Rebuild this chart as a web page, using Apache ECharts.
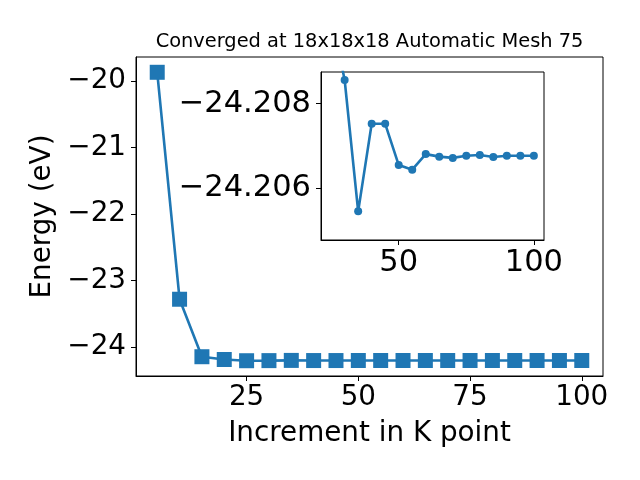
<!DOCTYPE html>
<html><head><meta charset="utf-8">
<script src="https://cdn.jsdelivr.net/npm/echarts@6/dist/echarts.min.js"></script>
<style>html,body{margin:0;padding:0;background:#fff}#c{width:640px;height:480px}</style>
</head><body><div id="c"></div>
<script>
const kPoints = [5,10,15,20,25,30,35,40,45,50,55,60,65,70,75,80,85,90,95,100];
const energy = [-19.870,-23.285,-24.150,-24.192,-24.21015,-24.20856,-24.20544,-24.20752,-24.20752,-24.20654,-24.20643,-24.20680,-24.20674,-24.20671,-24.20676,-24.20678,-24.20673,-24.20676,-24.20676,-24.20676];
const mainXTicks = [25,50,75,100];
const mainYTicks = [-20,-21,-22,-23,-24];
const insetXTicks = [50,100];
const insetYTicks = [-24.208,-24.206];
const insetStartK = 25;
const titleText = 'Converged at 18x18x18 Automatic Mesh 75';
const xLabel = 'Increment in K point';
const yLabel = 'Energy (eV)';

const FONT = 'DejaVu Sans';
const C = '#1f77b4';
const mainData = kPoints.map((k,i)=>[k, energy[i]]);
const insetData = mainData.filter(d=>d[0]>=insetStartK);
const minus = s => String(s).replace('-', '\u2212');

const chart = echarts.init(document.getElementById('c'), null, {renderer:'canvas'});
chart.setOption({
  animation:false,
  backgroundColor:'#fff',
  graphic:[{type:'text', x:369.5, y:42, style:{text:titleText, font:'19.4px "DejaVu Sans"', fill:'#000', textAlign:'center', textVerticalAlign:'middle'}}],
  grid:[
    {left:136, top:57, width:467, height:319, show:true, borderColor:'#000', borderWidth:1, backgroundColor:'transparent'},
    {left:321, top:72, width:223, height:168, show:true, borderColor:'#000', borderWidth:1, backgroundColor:'#fff', z:10}
  ],
  xAxis:[
    {type:'value', gridIndex:0, min:0.25, max:104.75,
     name:xLabel, nameLocation:'middle', nameGap:44, nameTextStyle:{fontFamily:FONT, fontSize:27.8, color:'#000'},
     axisLine:{show:true, onZero:false, lineStyle:{color:'#000', width:1}}, splitLine:{show:false},
     axisTick:{show:true, length:5, customValues:mainXTicks, lineStyle:{color:'#000'}},
     axisLabel:{customValues:mainXTicks, fontFamily:FONT, fontSize:27.8, color:'#000', margin:8, formatter:v=>minus(v)}},
    {type:'value', gridIndex:1, min:21.25, max:103.75, z:10,
     axisLine:{show:true, onZero:false, lineStyle:{color:'#000', width:1}}, splitLine:{show:false},
     axisTick:{show:true, length:5, customValues:insetXTicks, lineStyle:{color:'#000'}},
     axisLabel:{customValues:insetXTicks, fontFamily:FONT, fontSize:30.5, color:'#000', margin:8, formatter:v=>minus(v)}}
  ],
  yAxis:[
    {type:'value', gridIndex:0, min:-24.44, max:-19.64,
     name:yLabel, nameLocation:'middle', nameGap:76, nameRotate:90, nameTextStyle:{fontFamily:FONT, fontSize:27.8, color:'#000'},
     axisLine:{show:true, onZero:false, lineStyle:{color:'#000', width:1}}, splitLine:{show:false},
     axisTick:{show:true, length:5, customValues:mainYTicks, lineStyle:{color:'#000'}},
     axisLabel:{customValues:mainYTicks, fontFamily:FONT, fontSize:27.8, color:'#000', margin:10, formatter:v=>minus(v)}},
    {type:'value', gridIndex:1, min:-24.20875, max:-24.20476, inverse:true, z:10,
     axisLine:{show:true, onZero:false, lineStyle:{color:'#000', width:1}}, splitLine:{show:false},
     axisTick:{show:true, length:5, customValues:insetYTicks, lineStyle:{color:'#000'}},
     axisLabel:{customValues:insetYTicks, fontFamily:FONT, fontSize:30.5, color:'#000', margin:10, formatter:v=>minus(Number(v).toFixed(3))}}
  ],
  series:[
    {type:'line', xAxisIndex:0, yAxisIndex:0, data:mainData, symbol:'rect', symbolSize:15,
     lineStyle:{color:C, width:2.6}, itemStyle:{color:C}, clip:true, z:2},
    {type:'line', xAxisIndex:1, yAxisIndex:1, data:insetData, symbol:'circle', symbolSize:8,
     lineStyle:{color:C, width:2.6}, itemStyle:{color:C}, clip:true, z:12}
  ]
});
</script></body></html>
